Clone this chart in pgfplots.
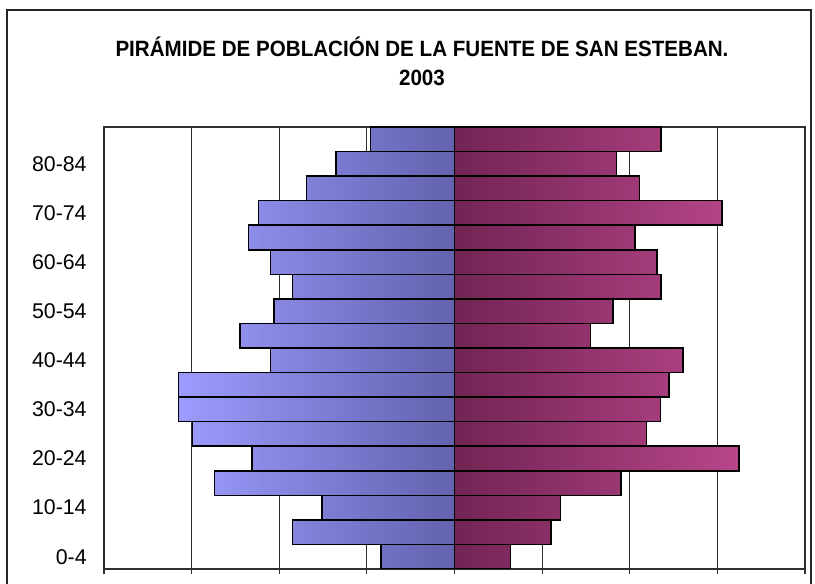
\documentclass[border=0pt]{standalone}
\usepackage{fontspec}
\setmainfont{Liberation Sans}
\usepackage{pgfplots}
\pgfplotsset{compat=1.18}
\definecolor{gridc}{HTML}{303030}
\definecolor{bluelight}{HTML}{9C9CFF}
\definecolor{bluedark}{HTML}{6262AE}
\definecolor{magdark}{HTML}{722454}
\definecolor{maglight}{HTML}{B8468A}
\begin{document}
\begin{tikzpicture}[x=1pt,y=1pt]
\useasboundingbox (0,0) rectangle (611.25,438);
\clip (0,0) rectangle (611.25,438);
\fill[white] (0,0) rectangle (611.25,438);
\draw[line width=0.9pt, black!85] (5.25,-20) rectangle (608.25,430.5);
\node[font=\fontsize{16.6}{19}\selectfont\bfseries] at (316.5,402.75) {\scalebox{0.93}[1]{PIRÁMIDE DE POBLACIÓN DE LA FUENTE DE SAN ESTEBAN.}};
\node[font=\fontsize{16.6}{19}\selectfont\bfseries] at (316.5,379.5) {\scalebox{0.93}[1]{2003}};
\begin{axis}[
  at={(78pt,11.25pt)}, anchor=south west, scale only axis,
  width=525.75pt, height=331.5pt,
  xmin=-40, xmax=40, ymin=-0.5, ymax=17.5,
  xtick={-40,-30,...,40}, xticklabels={},
  xtick pos=left, tick align=outside, major tick length=4pt,
  xtick style={gridc, line width=0.8pt},
  ytick={0,2,...,16},
  yticklabels={0-4,10-14,20-24,30-34,40-44,50-54,60-64,70-74,80-84},
  ytick style={draw=none},
  yticklabel style={font=\fontsize{16}{19}\selectfont, xshift=-5.5pt},
  xmajorgrids, grid style={gridc, line width=0.8pt},
  axis line style={gridc, line width=0.9pt},
  bar width=1, bar shift=0pt,
]
\addplot[xbar, draw=black, line width=1.2pt, left color=bluelight, right color=bluedark] coordinates {
(-8.4,0) (-18.5,1) (-15.1,2) (-27.4,3) (-23.1,4) (-29.9,5) (-31.5,6) (-31.5,7) (-21.0,8)
(-24.45,9) (-20.6,10) (-18.5,11) (-21.0,12) (-23.5,13) (-22.35,14) (-16.9,15) (-13.5,16) (-9.6,17)};
\addplot[xbar, draw=black, line width=1.2pt, left color=magdark, right color=maglight] coordinates {
(6.4,0) (11.0,1) (12.1,2) (19.0,3) (32.5,4) (21.9,5) (23.5,6) (24.5,7) (26.1,8)
(15.5,9) (18.1,10) (23.6,11) (23.1,12) (20.6,13) (30.5,14) (21.1,15) (18.5,16) (23.6,17)};
\end{axis}
\end{tikzpicture}
\end{document}
